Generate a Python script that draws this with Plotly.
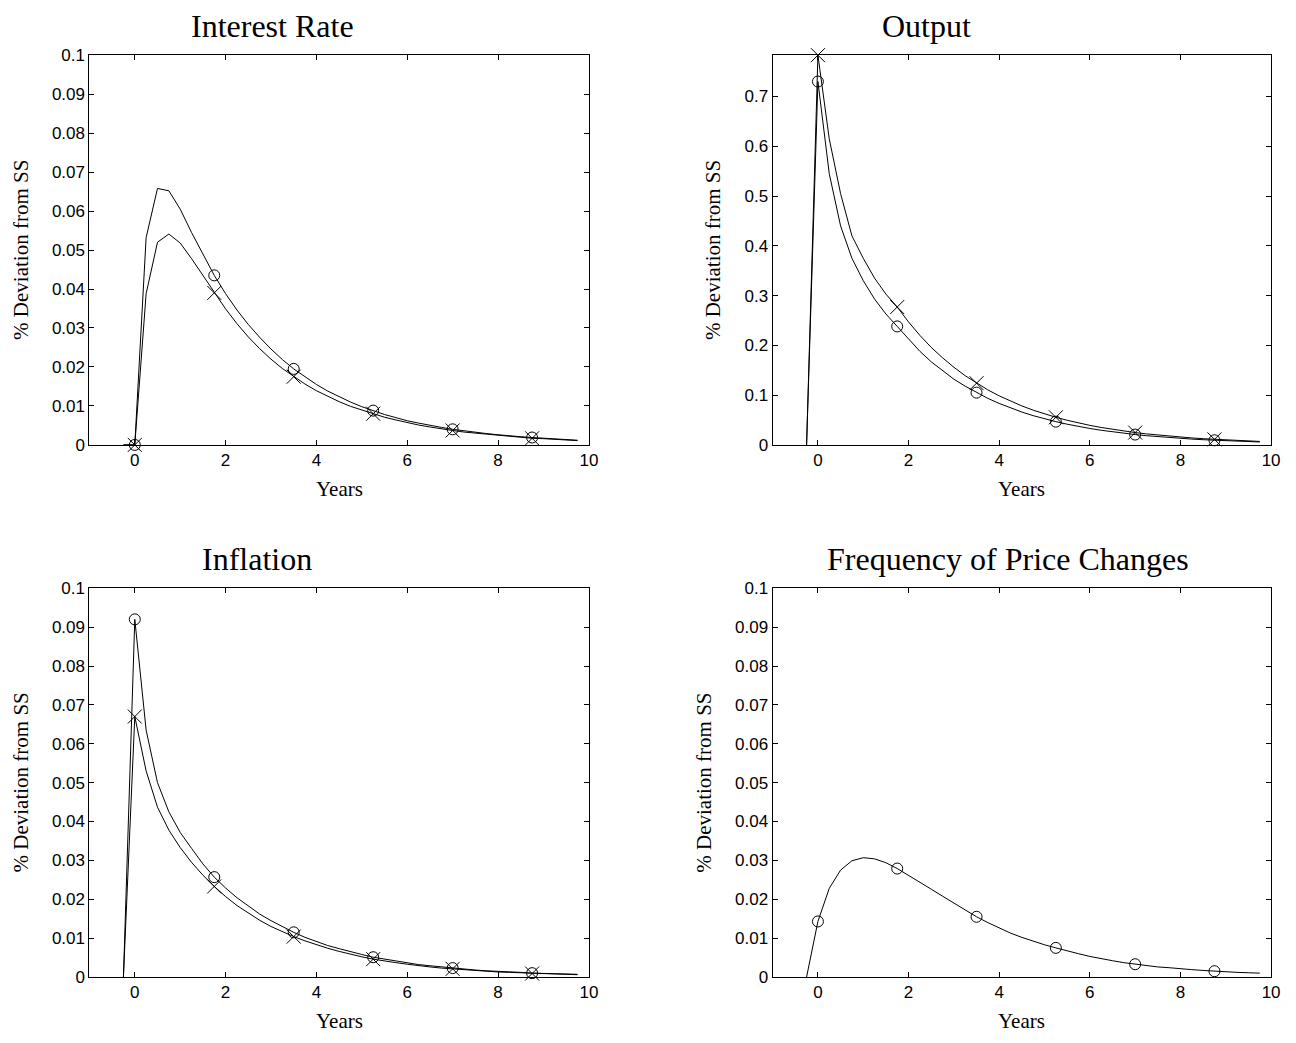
import plotly.graph_objects as go

W, H = 1296, 1043

years = [-0.25, 0.0, 0.25, 0.5, 0.75, 1.0, 1.25, 1.5, 1.75, 2.0, 2.25, 2.5, 2.75, 3.0,
         3.25, 3.5, 3.75, 4.0, 4.25, 4.5, 4.75, 5.0, 5.25, 5.5, 5.75, 6.0, 6.25, 6.5,
         6.75, 7.0, 7.25, 7.5, 7.75, 8.0, 8.25, 8.5, 8.75, 9.0, 9.25, 9.5, 9.75]

# Interest rate
rate_circle = [0, 0, 0.0532, 0.0658, 0.0652, 0.0605, 0.0545, 0.0488, 0.0435, 0.0388,
               0.0346, 0.0309, 0.0276, 0.0246, 0.0219, 0.0195, 0.0174, 0.0155, 0.0138,
               0.0123, 0.0110, 0.0098, 0.0088, 0.0078, 0.0070, 0.0062, 0.0056, 0.0050,
               0.0045, 0.0040, 0.0036, 0.0032, 0.0029, 0.0026, 0.0023, 0.0021, 0.0019,
               0.0017, 0.0015, 0.0013, 0.0012]
rate_cross = [0, 0, 0.0388, 0.0520, 0.0541, 0.0518, 0.0478, 0.0434, 0.0390, 0.0349,
              0.0311, 0.0277, 0.0247, 0.0220, 0.0196, 0.0175, 0.0156, 0.0139, 0.0124,
              0.0111, 0.0099, 0.0089, 0.0080, 0.0071, 0.0064, 0.0057, 0.0051, 0.0046,
              0.0041, 0.0037, 0.0033, 0.0030, 0.0027, 0.0024, 0.0022, 0.0019, 0.0017,
              0.0016, 0.0014, 0.0013, 0.0011]

# Output
output_circle = [0, 0.730, 0.545, 0.440, 0.375, 0.330, 0.293, 0.263, 0.238, 0.212,
                 0.188, 0.167, 0.149, 0.132, 0.118, 0.105, 0.0935, 0.0833, 0.0741,
                 0.0660, 0.0588, 0.0524, 0.0467, 0.0416, 0.0370, 0.0330, 0.0294, 0.0262,
                 0.0233, 0.0208, 0.0185, 0.0165, 0.0147, 0.0131, 0.0117, 0.0104, 0.0093,
                 0.0083, 0.0074, 0.0066, 0.0059]
output_cross = [0, 0.783, 0.615, 0.505, 0.420, 0.375, 0.335, 0.303, 0.277, 0.247,
                0.220, 0.196, 0.175, 0.156, 0.139, 0.124, 0.1105, 0.0985, 0.0878,
                0.0783, 0.0698, 0.0622, 0.0555, 0.0495, 0.0441, 0.0393, 0.0350, 0.0312,
                0.0278, 0.0248, 0.0221, 0.0197, 0.0176, 0.0157, 0.0140, 0.0125, 0.0111,
                0.0099, 0.0088, 0.0079, 0.0070]

# Inflation
infl_circle = [0, 0.0920, 0.0635, 0.0500, 0.0425, 0.0372, 0.0331, 0.0291, 0.0257, 0.0229,
               0.0204, 0.0182, 0.0162, 0.0145, 0.0129, 0.0115, 0.0102, 0.0091, 0.0081,
               0.0073, 0.0065, 0.0058, 0.0051, 0.0046, 0.0041, 0.0036, 0.0032, 0.0029,
               0.0026, 0.0023, 0.0021, 0.0018, 0.0016, 0.0015, 0.0013, 0.0012, 0.0010,
               0.0009, 0.0008, 0.0007, 0.0007]
infl_cross = [0, 0.0670, 0.0530, 0.0437, 0.0378, 0.0333, 0.0295, 0.0262, 0.0233, 0.0207,
              0.0184, 0.0164, 0.0146, 0.0130, 0.0116, 0.0104, 0.0093, 0.0083, 0.0074,
              0.0066, 0.0058, 0.0052, 0.0046, 0.0041, 0.0037, 0.0033, 0.0029, 0.0026,
              0.0023, 0.0021, 0.0018, 0.0016, 0.0015, 0.0013, 0.0012, 0.0011, 0.0009,
              0.0008, 0.0007, 0.0007, 0.0006]

# Frequency of price changes
freq_circle = [0, 0.0143, 0.0228, 0.0275, 0.0299, 0.0307, 0.0304, 0.0294, 0.0279, 0.0262,
               0.0244, 0.0226, 0.0208, 0.0190, 0.0172, 0.0155, 0.0140, 0.0126, 0.0113,
               0.0102, 0.0092, 0.0083, 0.0075, 0.0067, 0.0060, 0.0053, 0.0047, 0.0042,
               0.0037, 0.0033, 0.0030, 0.0026, 0.0024, 0.0021, 0.0019, 0.0017, 0.0015,
               0.0013, 0.0012, 0.0011, 0.0010]

marker_idx = [1, 8, 15, 22, 29, 36]

x_ticks = [0, 2, 4, 6, 8, 10]
y_ticks_small = [0, 0.01, 0.02, 0.03, 0.04, 0.05, 0.06, 0.07, 0.08, 0.09, 0.1]
y_labels_small = ["0", "0.01", "0.02", "0.03", "0.04", "0.05", "0.06", "0.07", "0.08", "0.09", "0.1"]
y_ticks_out = [0, 0.1, 0.2, 0.3, 0.4, 0.5, 0.6, 0.7]
y_labels_out = ["0", "0.1", "0.2", "0.3", "0.4", "0.5", "0.6", "0.7"]

titles = ["Interest Rate", "Output", "Inflation", "Frequency of Price Changes"]
x_label = "Years"
y_label = "% Deviation from SS"

SERIF = "Liberation Serif, Times New Roman, serif"
SANS = "Liberation Sans, Arial, sans-serif"

# panel boxes in pixels: (left, right, top, bottom)
boxes = [(90, 593, 47, 444), (778, 1280, 47, 444), (90, 593, 590, 986), (778, 1280, 590, 986)]
title_x = [274, 933, 259, 1015]
ylabel_x = [21, 718, 21, 709]

fig = go.Figure()

panels = [
    [(rate_circle, "circle-open", 11), (rate_cross, "x-thin-open", 14)],
    [(output_circle, "circle-open", 11), (output_cross, "x-thin-open", 14)],
    [(infl_circle, "circle-open", 11), (infl_cross, "x-thin-open", 14)],
    [(freq_circle, "circle-open", 11)],
]

for p, series in enumerate(panels):
    xa = "x" if p == 0 else f"x{p+1}"
    ya = "y" if p == 0 else f"y{p+1}"
    for vals, sym, sz in series:
        fig.add_trace(go.Scatter(x=years, y=vals, mode="lines",
                                 line=dict(color="black", width=1),
                                 xaxis=xa, yaxis=ya, showlegend=False, hoverinfo="skip"))
        fig.add_trace(go.Scatter(x=[years[i] for i in marker_idx],
                                 y=[vals[i] for i in marker_idx], mode="markers",
                                 marker=dict(symbol=sym, size=sz, color="black",
                                             line=dict(color="black", width=1)),
                                 xaxis=xa, yaxis=ya, showlegend=False, cliponaxis=False))

layout = dict(width=W, height=H, margin=dict(l=0, r=0, t=0, b=0),
              paper_bgcolor="white", plot_bgcolor="white", showlegend=False)

annotations = []
for p, (l, r, t, b) in enumerate(boxes):
    sfx = "" if p == 0 else str(p + 1)
    xdom = [l / W, r / W]
    ydom = [1 - b / H, 1 - t / H]
    common = dict(showline=True, linecolor="black", linewidth=1, mirror="allticks",
                  ticks="inside", ticklen=5, tickwidth=1, tickcolor="black",
                  showgrid=False, zeroline=False,
                  tickfont=dict(family=SANS, size=17, color="black"))
    layout["xaxis" + sfx] = dict(domain=xdom, range=[-1, 10], tickvals=x_ticks,
                                 anchor="y" + sfx, **common)
    if p == 1:
        yr, tv, tt = [0, 0.783], y_ticks_out, y_labels_out
    else:
        yr, tv, tt = [0, 0.1], y_ticks_small, y_labels_small
    layout["yaxis" + sfx] = dict(domain=ydom, range=yr, tickvals=tv, ticktext=tt,
                                 anchor="x" + sfx, **common)
    annotations.append(dict(text=titles[p], x=title_x[p] / W, y=1 - (t - 30) / H,
                            xref="paper", yref="paper", showarrow=False,
                            xanchor="center", yanchor="middle",
                            font=dict(family=SERIF, size=32, color="black")))
    annotations.append(dict(text=x_label, x=(l + r) / 2 / W, y=1 - (b + 45) / H,
                            xref="paper", yref="paper", showarrow=False,
                            xanchor="center", yanchor="middle",
                            font=dict(family=SERIF, size=21, color="black")))
    annotations.append(dict(text=y_label, x=ylabel_x[p] / W, y=1 - (t + b) / 2 / H,
                            xref="paper", yref="paper", showarrow=False, textangle=-90,
                            xanchor="center", yanchor="middle",
                            font=dict(family=SERIF, size=21, color="black")))

layout["annotations"] = annotations
fig.update_layout(**layout)
fig.write_html("out.html")
